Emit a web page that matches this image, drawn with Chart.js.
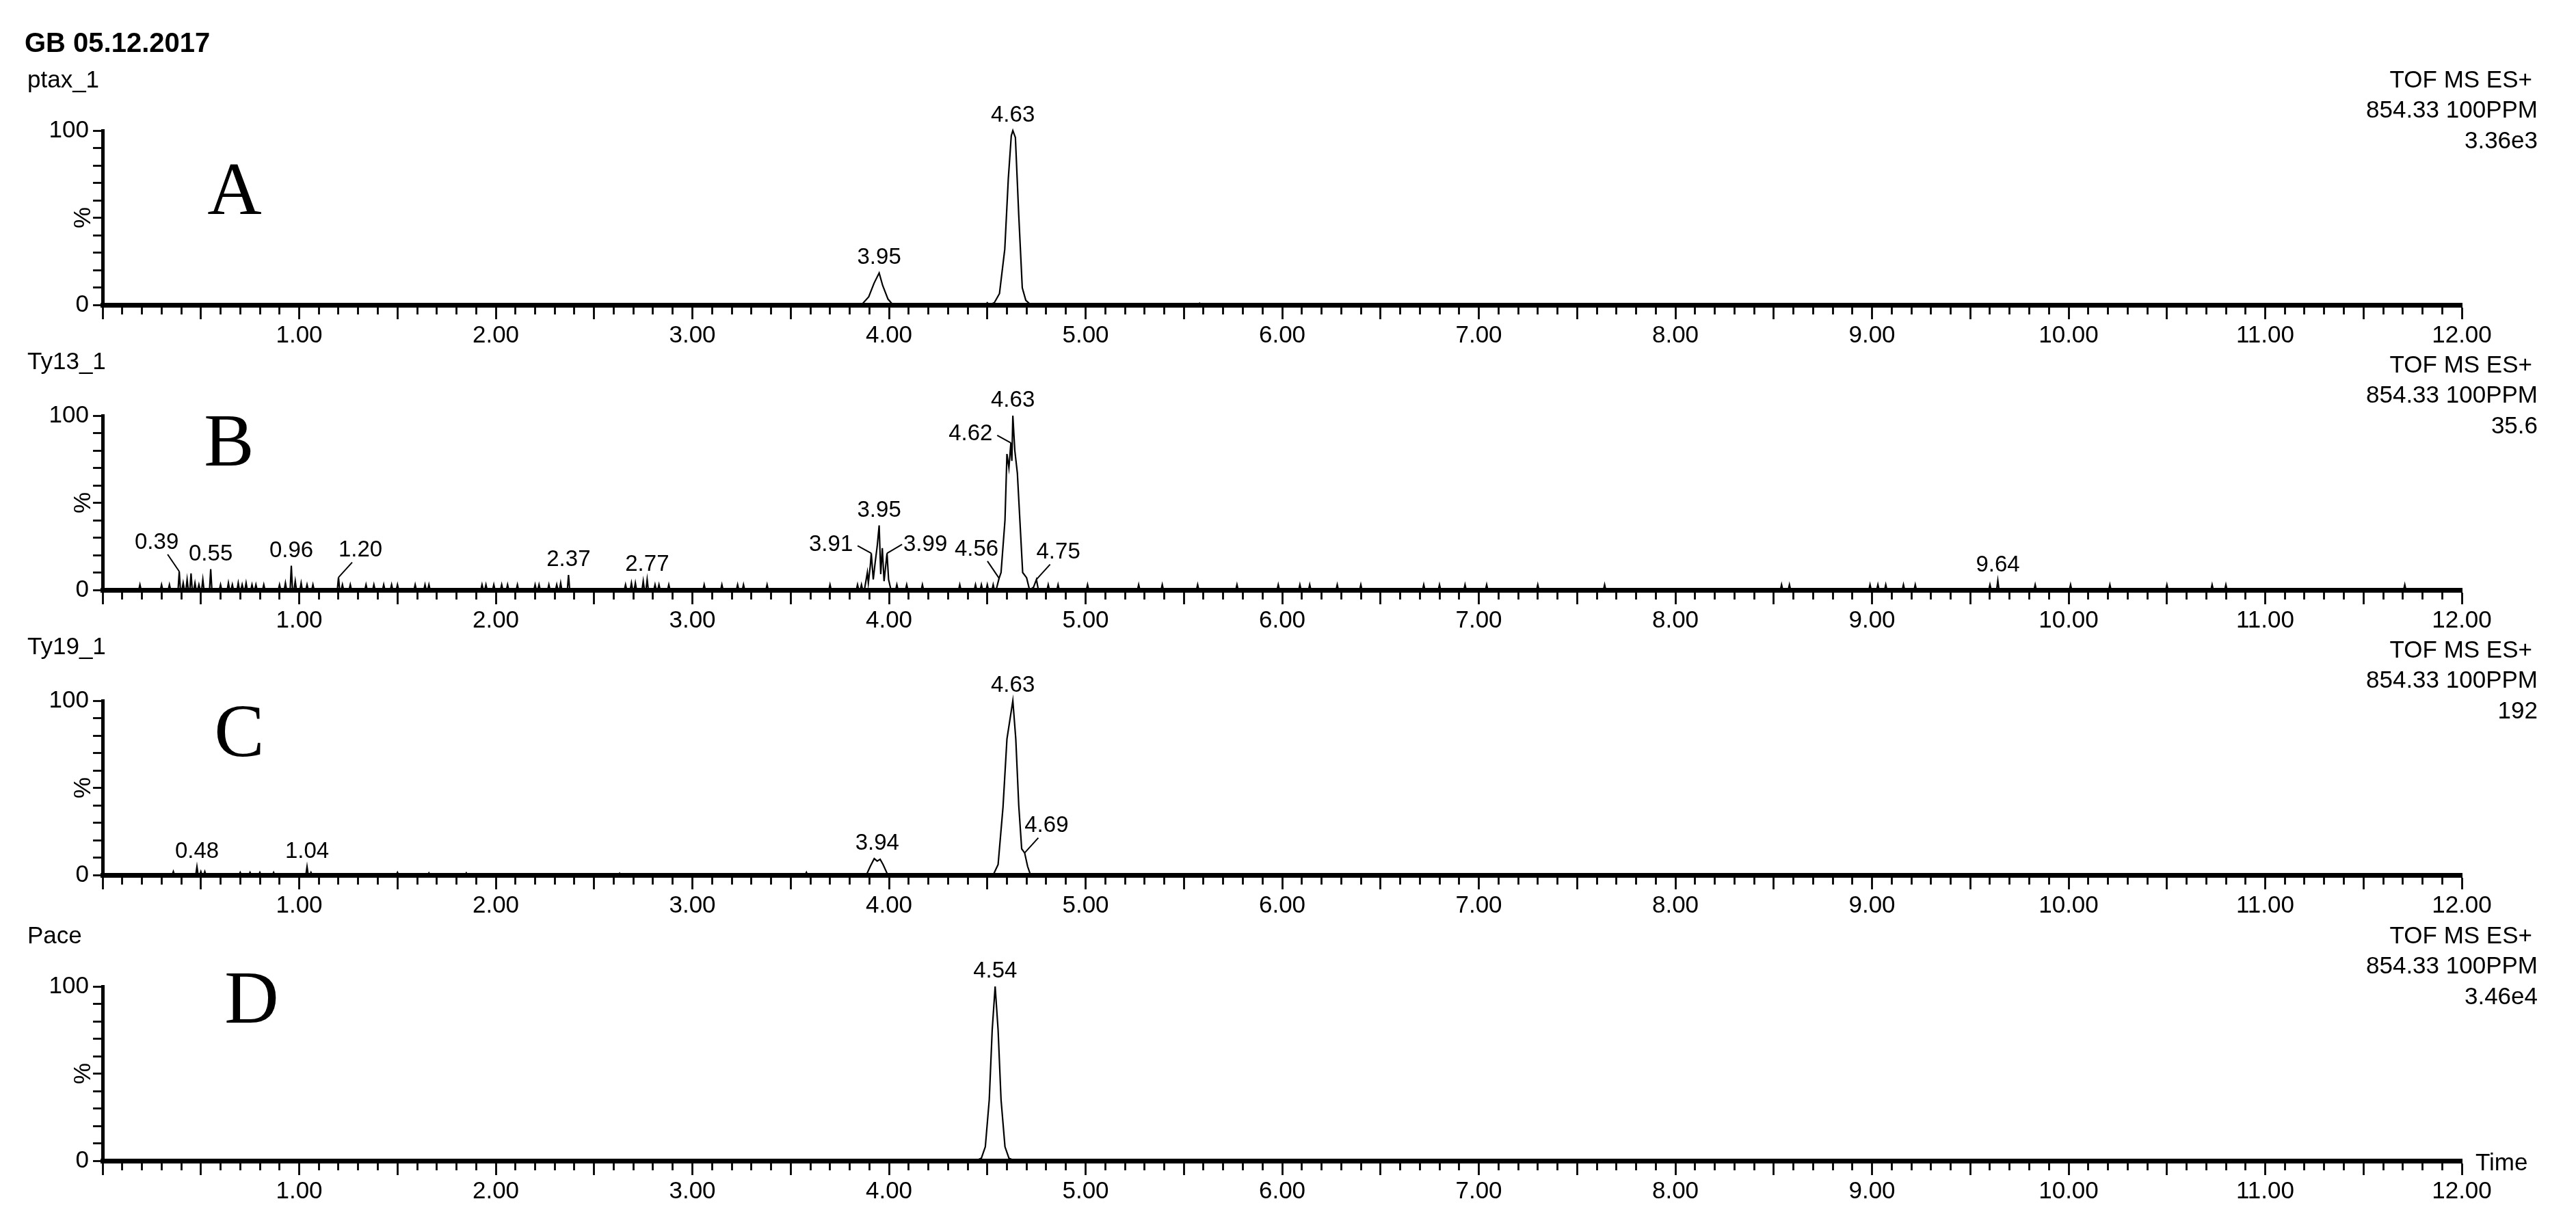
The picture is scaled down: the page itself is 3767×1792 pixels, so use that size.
<!DOCTYPE html>
<html>
<head>
<meta charset="utf-8">
<script src="https://cdn.jsdelivr.net/npm/chart.js@4.4.1/dist/chart.umd.min.js"></script>
<style>
  html, body { margin: 0; padding: 0; background: #fff; }
  body { width: 3767px; height: 1792px; position: relative; overflow: hidden; }
  canvas.panel { position: absolute; left: 0; }
</style>
</head>
<body>
<script>
// run info
const runTitle = 'GB 05.12.2017';
const panelNames = ['ptax_1', 'Ty13_1', 'Ty19_1', 'Pace'];
const panelLetters = ['A', 'B', 'C', 'D'];
const acquisition = ['TOF MS ES+', '854.33 100PPM'];
const panelMaxCounts = ['3.36e3', '35.6', '192', '3.46e4'];

// axis ticks
const timeTickLabels = [1, 2, 3, 4, 5, 6, 7, 8, 9, 10, 11, 12];
const intensityTickLabels = [0, 100];

// A - ptax_1 (time min / intensity %)
const aTime = [0, 3.86, 3.897, 3.924, 3.95, 3.968, 3.995, 4.02, 4.49, 4.50, 4.51, 4.536, 4.562, 4.589, 4.607, 4.622, 4.63, 4.643, 4.66, 4.678, 4.696, 4.722, 5.57, 5.58, 5.59, 12];
const aInt  = [0, 0, 4.6, 12.4, 18.3, 11.1, 3.3, 0, 0, 1.2, 0, 1.3, 6.5, 32, 72.5, 97, 100, 96, 51.6, 9.8, 2.6, 0, 0, 1, 0, 0];
const aSpikeTime = [];
const aSpikeInt = [];
const aPeakTime = [3.95, 4.63];
const aPeakInt = [18.3, 100];
const aPeakSide = ['top', 'top'];

// B - Ty13_1
const bTime = [0, 3.875, 3.89, 3.895, 3.905, 3.91, 3.92, 3.93, 3.94, 3.95, 3.958, 3.966, 3.975, 3.99, 3.998, 4.01,
  4.545, 4.56, 4.57, 4.59, 4.60, 4.61, 4.62, 4.625, 4.63, 4.64, 4.653, 4.68, 4.70, 4.715, 4.735, 4.75, 4.76, 12];
const bInt  = [0, 0, 10, 4, 14, 21, 6, 16, 25, 37, 9, 24, 5, 21, 6, 0,
  0, 6.7, 10, 40, 78, 70, 84.4, 74, 100, 80, 67, 10, 7, 0, 1.5, 6, 0, 0];
const bSpikeTime = [0.19, 0.30, 0.34, 0.39, 0.41, 0.43, 0.45, 0.47, 0.49, 0.51, 0.55, 0.60, 0.64, 0.66, 0.69, 0.71, 0.73, 0.76, 0.78, 0.82,
  0.90, 0.93, 0.96, 0.98, 1.01, 1.04, 1.07, 1.20, 1.22, 1.26, 1.34, 1.38, 1.43, 1.47, 1.50, 1.59, 1.64, 1.66,
  1.93, 1.95, 1.99, 2.03, 2.06, 2.11, 2.20, 2.22, 2.27, 2.31, 2.33, 2.37, 2.66, 2.69, 2.71, 2.75, 2.77, 2.81, 2.83, 2.88,
  3.06, 3.15, 3.23, 3.26, 3.38, 3.70, 3.84, 3.86, 4.04, 4.09, 4.17, 4.36, 4.44, 4.47, 4.50, 4.53,
  4.81, 4.86, 5.01, 5.27, 5.39, 5.57, 5.77, 5.98, 6.09, 6.14, 6.28, 6.40, 6.72, 6.80, 6.93, 7.04, 7.30, 7.64,
  8.54, 8.58, 8.99, 9.03, 9.07, 9.16, 9.22, 9.60, 9.64, 9.83, 10.01, 10.21, 10.50, 10.73, 10.80, 11.71];
const bSpikeInt = [3, 3, 3, 10.6, 4, 6, 9.5, 4, 3, 6, 11.9, 3, 4, 3, 4, 3, 4, 3, 3, 3,
  3, 4, 13.9, 5, 4, 3, 3, 7.2, 3, 3, 3, 3, 3, 3, 3, 3, 3, 3,
  3, 3, 3, 3, 3, 3, 3, 3, 3, 3, 4, 8.6, 3, 4, 4, 5, 6, 3, 3, 3,
  3, 3, 3, 3, 3, 3, 3, 3, 3, 3, 3, 3, 3, 3, 3, 3,
  3, 3, 3, 3, 3, 3, 3, 3, 3, 3, 3, 3, 3, 3, 3, 3, 3, 3,
  3, 3, 3, 3, 3, 3, 3, 3, 5.4, 3, 3, 3, 3, 3, 3, 3];
const bPeakTime = [0.39, 0.55, 0.96, 1.20, 2.37, 2.77, 3.91, 3.95, 3.99, 4.56, 4.62, 4.63, 4.75, 9.64];
const bPeakInt = [10.6, 11.9, 13.9, 7.2, 8.6, 6, 21, 37, 21, 6.7, 84.4, 100, 6, 5.4];
const bPeakSide = ['ul', 'top', 'top', 'ur', 'top', 'top', 'l', 'top', 'r', 'ul', 'l', 'top', 'ur', 'top'];

// C - Ty19_1
const cTime = [0, 3.885, 3.905, 3.925, 3.94, 3.955, 3.97, 3.99, 4.0, 4.53, 4.555, 4.58, 4.60, 4.63, 4.645, 4.66, 4.675, 4.69, 4.705, 4.72, 12];
const cInt  = [0, 0, 5, 9.4, 8, 9, 6, 1, 0, 0, 6, 39, 78, 100, 78, 40, 15, 12.7, 5, 0, 0];
const cSpikeTime = [0.36, 0.48, 0.50, 0.52, 0.70, 0.75, 0.80, 0.87, 1.04, 1.06, 1.50, 1.66, 1.85, 2.63, 3.58];
const cSpikeInt = [2, 4.8, 2, 2, 1.5, 1.5, 1.5, 1.5, 4.8, 1.5, 1.5, 1.2, 1.2, 1, 1.5];
const cPeakTime = [0.48, 1.04, 3.94, 4.63, 4.69];
const cPeakInt = [4.8, 4.8, 9.4, 100, 12.7];
const cPeakSide = ['top', 'top', 'top', 'top', 'ur'];

// D - Pace
const dTime = [0, 4.44, 4.47, 4.49, 4.51, 4.525, 4.54, 4.555, 4.57, 4.59, 4.61, 4.64, 12];
const dInt  = [0, 0, 1.5, 8, 35, 75, 100, 75, 35, 8, 1.5, 0, 0];
const dSpikeTime = [];
const dSpikeInt = [];
const dPeakTime = [4.54];
const dPeakInt = [100];
const dPeakSide = ['top'];

// layout (page pixels)
const PAGE_W = 3767, PAGE_H = 1792;
const plotLeft = 150, plotRight = 3600, plotH = 255;
const plotTops = [191, 608, 1025, 1443];
const nameOffsets = [-73, -78, -78, -73];
const letterOffsets = [[343, 93], [335, 44], [350, 52], [368, 24]];
const SPIKE_HALF = 0.006;
const FONT = '"Liberation Sans", Arial, sans-serif';

Chart.defaults.font.family = FONT;
Chart.defaults.font.size = 35;
Chart.defaults.color = '#000';

// label offsets: [textDx, textDy, leaderDx, leaderDy]
const sideOffsets = {
  top: [0, -22, 0, 0],
  ul: [-33, -42, -17, -25],
  ur: [32, -40, 20, -22],
  l: [-59, -13, -20, -11],
  r: [56, -13, 22, -13]
};

function buildPoints(times, ints, spikeT, spikeI) {
  const pts = times.map((t, i) => ({x: t, y: ints[i]}));
  spikeT.forEach((t, i) => {
    pts.push({x: t - SPIKE_HALF, y: 0}, {x: t, y: spikeI[i]}, {x: t + SPIKE_HALF, y: 0});
  });
  pts.sort((p, q) => p.x - q.x);
  return pts;
}

const notesPlugin = {
  id: 'notes',
  afterDraw(chart, args, o) {
    const {ctx, chartArea} = chart;
    const x = chart.scales.x, y = chart.scales.y;
    const top = chartArea.top;
    ctx.save();
    ctx.fillStyle = '#000';
    ctx.strokeStyle = '#000';
    ctx.textBaseline = 'middle';

    if (o.title) {
      ctx.font = 'bold 40px ' + FONT;
      ctx.textAlign = 'left';
      ctx.fillText(o.title, 36, top - 126);
    }
    ctx.font = '35px ' + FONT;
    ctx.textAlign = 'left';
    ctx.fillText(o.name, 40, top + o.nameDy);

    ctx.textAlign = 'right';
    const notes = acquisition.concat([o.maxCount]);
    const rights = [3703, 3711, 3711];
    notes.forEach((s, i) => ctx.fillText(s, rights[i], top - 73 + i * 44.5));

    // rotated % at mid axis
    ctx.save();
    ctx.translate(122, y.getPixelForValue(50));
    ctx.rotate(-Math.PI / 2);
    ctx.textAlign = 'center';
    ctx.fillText('%', 0, 0);
    ctx.restore();

    if (o.timeLabel) {
      ctx.textAlign = 'left';
      ctx.fillText('Time', 3620, chartArea.bottom + 4);
    }

    // panel letter
    ctx.font = '110px "Liberation Serif", "Times New Roman", serif';
    ctx.textAlign = 'center';
    ctx.fillText(o.letter, o.letterPos[0], top + o.letterPos[1]);

    // peak labels
    ctx.font = '33px ' + FONT;
    ctx.lineWidth = 2;
    o.peaks.time.forEach((t, i) => {
      const px = x.getPixelForValue(t);
      const py = y.getPixelForValue(o.peaks.int[i]);
      const off = sideOffsets[o.peaks.side[i]];
      if (off[2] || off[3]) {
        ctx.beginPath();
        ctx.moveTo(px, py);
        ctx.lineTo(px + off[2], py + off[3]);
        ctx.stroke();
      }
      ctx.textAlign = 'center';
      ctx.fillText(t.toFixed(2), px + off[0], py + off[1]);
    });
    ctx.restore();
  }
};

const panels = [
  {time: aTime, int: aInt, st: aSpikeTime, si: aSpikeInt, peaks: {time: aPeakTime, int: aPeakInt, side: aPeakSide}},
  {time: bTime, int: bInt, st: bSpikeTime, si: bSpikeInt, peaks: {time: bPeakTime, int: bPeakInt, side: bPeakSide}},
  {time: cTime, int: cInt, st: cSpikeTime, si: cSpikeInt, peaks: {time: cPeakTime, int: cPeakInt, side: cPeakSide}},
  {time: dTime, int: dInt, st: dSpikeTime, si: dSpikeInt, peaks: {time: dPeakTime, int: dPeakInt, side: dPeakSide}}
];

panels.forEach((p, i) => {
  const padTop = i === 0 ? plotTops[0] : 120;
  const padBottom = i === 3 ? PAGE_H - (plotTops[3] + plotH) : 80;
  const canvas = document.createElement('canvas');
  canvas.className = 'panel';
  canvas.width = PAGE_W;
  canvas.height = padTop + plotH + padBottom;
  canvas.style.top = (plotTops[i] - padTop) + 'px';
  document.body.appendChild(canvas);

  new Chart(canvas, {
    type: 'line',
    data: {
      datasets: [{
        data: buildPoints(p.time, p.int, p.st, p.si),
        borderColor: '#000',
        borderWidth: 2.2,
        pointRadius: 0,
        tension: 0,
        clip: false
      }]
    },
    options: {
      responsive: false,
      devicePixelRatio: 1,
      animation: false,
      events: [],
      layout: {padding: {top: padTop, left: 0, right: PAGE_W - plotRight, bottom: 0}},
      plugins: {
        legend: {display: false},
        tooltip: {enabled: false},
        notes: {
          title: i === 0 ? runTitle : null,
          name: panelNames[i],
          nameDy: nameOffsets[i],
          letter: panelLetters[i],
          letterPos: letterOffsets[i],
          maxCount: panelMaxCounts[i],
          timeLabel: i === 3,
          peaks: p.peaks
        }
      },
      scales: {
        x: {
          type: 'linear',
          min: 0,
          max: 12,
          afterFit: s => { s.height = padBottom; s.paddingLeft = 0; s.paddingRight = 0; },
          border: {display: true, color: '#000', width: 7},
          grid: {
            drawOnChartArea: false,
            tickLength: 21,
            tickColor: '#000',
            tickWidth: 2.8,
            tickBorderDash: ctx => {
              const v = ctx.tick ? ctx.tick.value : 0;
              return Math.abs(v * 2 - Math.round(v * 2)) < 1e-6 ? [] : [10, 60];
            }
          },
          ticks: {
            stepSize: 0.1,
            autoSkip: false,
            maxRotation: 0,
            minRotation: 0,
            padding: 3,
            font: {size: 35},
            callback: v => {
              const n = Math.round(v);
              return Math.abs(v - n) < 1e-6 && timeTickLabels.includes(n) ? n.toFixed(2) : '';
            }
          }
        },
        y: {
          min: 0,
          max: 100,
          afterFit: s => { s.width = plotLeft; s.paddingTop = 0; s.paddingBottom = 0; },
          border: {display: true, color: '#000', width: 5},
          grid: {drawOnChartArea: false, tickLength: 14, tickColor: '#000', tickWidth: 2.8},
          ticks: {
            stepSize: 10,
            autoSkip: false,
            padding: 6,
            font: {size: 35},
            callback: v => intensityTickLabels.includes(v) ? String(v) : ''
          }
        }
      }
    },
    plugins: [notesPlugin]
  });
});
</script>
</body>
</html>
